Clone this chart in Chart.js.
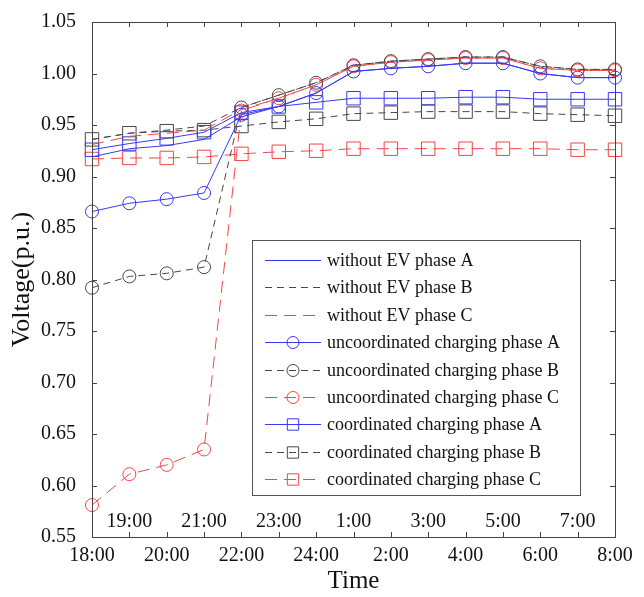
<!DOCTYPE html>
<html>
<head>
<meta charset="utf-8">
<script src="https://cdn.jsdelivr.net/npm/chart.js@4.4.1/dist/chart.umd.min.js"></script>
<style>
  html, body { margin: 0; padding: 0; background: #fff; }
  #wrap { width: 644px; height: 597px; }
</style>
</head>
<body>
<div id="wrap"><canvas id="myChart" width="644" height="597"></canvas></div>
<script>
var hours = ["18:00", "19:00", "20:00", "21:00", "22:00", "23:00", "24:00", "1:00", "2:00", "3:00", "4:00", "5:00", "6:00", "7:00", "8:00"];
var yTicks = [0.55, 0.60, 0.65, 0.70, 0.75, 0.80, 0.85, 0.90, 0.95, 1.00, 1.05];

// without EV
var noEvA = [0.919, 0.927, 0.930, 0.936, 0.958, 0.968, 0.981, 1.002, 1.005, 1.007, 1.010, 1.010, 1.000, 0.996, 0.996];
var noEvB = [0.936, 0.942, 0.945, 0.949, 0.967, 0.979, 0.991, 1.008, 1.012, 1.014, 1.016, 1.016, 1.007, 1.004, 1.004];
var noEvC = [0.931, 0.939, 0.942, 0.945, 0.965, 0.976, 0.989, 1.007, 1.011, 1.013, 1.015, 1.015, 1.005, 1.003, 1.003];
// uncoordinated charging
var uncA = [0.866, 0.874, 0.878, 0.884, 0.960, 0.968, 0.981, 1.002, 1.005, 1.007, 1.010, 1.010, 1.000, 0.996, 0.996];
var uncB = [0.792, 0.803, 0.806, 0.812, 0.967, 0.979, 0.991, 1.008, 1.012, 1.014, 1.016, 1.016, 1.007, 1.004, 1.004];
var uncC = [0.581, 0.611, 0.620, 0.635, 0.964, 0.976, 0.989, 1.007, 1.011, 1.013, 1.015, 1.015, 1.005, 1.003, 1.003];
// coordinated charging
var coA = [0.926, 0.932, 0.937, 0.943, 0.962, 0.968, 0.972, 0.976, 0.976, 0.976, 0.977, 0.977, 0.975, 0.975, 0.975];
var coB = [0.936, 0.942, 0.944, 0.945, 0.949, 0.953, 0.956, 0.961, 0.962, 0.963, 0.963, 0.963, 0.961, 0.960, 0.959];
var coC = [0.917, 0.918, 0.918, 0.919, 0.922, 0.924, 0.925, 0.927, 0.927, 0.927, 0.927, 0.927, 0.927, 0.926, 0.926];

var blue = "#3838f5";
var gray = "#474747";
var red = "#f24646";
var serif = "'Liberation Serif', 'Times New Roman', serif";

function series(label, data, color, dash, marker) {
  return {
    label: label,
    data: data,
    borderColor: color,
    borderWidth: 1,
    borderDash: dash,
    backgroundColor: "rgba(0,0,0,0)",
    pointStyle: marker || false,
    pointRadius: marker === "rect" ? 9.5 : (marker ? 6.5 : 0),
    pointBorderColor: color,
    pointBackgroundColor: "rgba(0,0,0,0)",
    pointBorderWidth: 1,
    tension: 0,
    clip: false
  };
}

var datasets = [
  series("without EV phase A", noEvA, blue, []),
  series("without EV phase B", noEvB, gray, [7, 5]),
  series("without EV phase C", noEvC, red, [12, 7]),
  series("uncoordinated charging phase A", uncA, blue, [], "circle"),
  series("uncoordinated charging phase B", uncB, gray, [7, 5], "circle"),
  series("uncoordinated charging phase C", uncC, red, [12, 7], "circle"),
  series("coordinated charging phase A", coA, blue, [], "rect"),
  series("coordinated charging phase B", coB, gray, [7, 5], "rect"),
  series("coordinated charging phase C", coC, red, [12, 7], "rect")
];

// frame + inward tick marks on all four sides
var framePlugin = {
  id: "frame",
  afterDatasetsDraw: function (chart) {
    var ctx = chart.ctx, a = chart.chartArea;
    var xs = chart.scales.x, ys = chart.scales.y;
    ctx.save();
    ctx.strokeStyle = "#444";
    ctx.lineWidth = 1;
    ctx.strokeRect(a.left + 0.5, a.top + 0.5, a.right - a.left, a.bottom - a.top);
    ctx.beginPath();
    for (var i = 0; i < hours.length; i++) {
      var x = Math.round(xs.getPixelForTick(i)) + 0.5;
      ctx.moveTo(x, a.bottom); ctx.lineTo(x, a.bottom - 5);
      ctx.moveTo(x, a.top); ctx.lineTo(x, a.top + 5);
    }
    ys.ticks.forEach(function (t) {
      var y = Math.round(ys.getPixelForValue(t.value)) + 0.5;
      ctx.moveTo(a.left, y); ctx.lineTo(a.left + 5, y);
      ctx.moveTo(a.right, y); ctx.lineTo(a.right - 5, y);
    });
    ctx.stroke();
    ctx.restore();
  }
};

// boxed legend inside the plot
var legendPlugin = {
  id: "boxLegend",
  afterDraw: function (chart) {
    var ctx = chart.ctx;
    var bx = 252, by = 240, bw = 328, bh = 255, rowH = 27.4;
    ctx.save();
    ctx.fillStyle = "#fff";
    ctx.fillRect(bx, by, bw, bh);
    ctx.strokeStyle = "#555";
    ctx.lineWidth = 1;
    ctx.strokeRect(bx + 0.5, by + 0.5, bw, bh);
    chart.data.datasets.forEach(function (ds, i) {
      var y = Math.round(by + 20 + i * rowH) + 0.5;
      ctx.strokeStyle = ds.borderColor;
      ctx.lineWidth = 1;
      ctx.setLineDash(ds.borderDash);
      ctx.beginPath();
      ctx.moveTo(265, y); ctx.lineTo(321, y);
      ctx.stroke();
      ctx.setLineDash([]);
      if (ds.pointStyle) {
        ctx.fillStyle = "rgba(0,0,0,0)";
        ctx.strokeStyle = ds.borderColor;
        Chart.helpers.drawPoint(ctx, {
          pointStyle: ds.pointStyle,
          radius: ds.pointStyle === "rect" ? 8 : 6,
          rotation: 0,
          borderWidth: 1
        }, 293, y);
      }
      ctx.fillStyle = "#111";
      ctx.font = "18px " + serif;
      ctx.textBaseline = "middle";
      ctx.fillText(ds.label, 327, y + 1);
    });
    ctx.restore();
  }
};

new Chart("myChart", {
  type: "line",
  data: {
    labels: hours,
    datasets: datasets
  },
  options: {
    responsive: false,
    animation: false,
    layout: { padding: { left: 0, top: 22, right: 29, bottom: 0 } },
    plugins: {
      legend: { display: false },
      tooltip: { enabled: false }
    },
    scales: {
      x: {
        type: "category",
        offset: false,
        grid: { display: false, drawTicks: false },
        border: { display: false },
        ticks: {
          autoSkip: false,
          maxRotation: 0,
          padding: 7,
          color: "#111",
          font: { family: serif, size: 20 },
          callback: function (v, i) { return i % 2 === 0 ? hours[i] : ""; }
        },
        title: {
          display: true,
          text: "Time",
          color: "#111",
          font: { family: serif, size: 25 },
          padding: { top: 0, bottom: 1 }
        },
        afterFit: function (s) { s.height = 60; s.paddingLeft = 0; s.paddingRight = 0; }
      },
      x2: {
        type: "category",
        labels: hours,
        offset: false,
        position: { y: 0.576 },
        grid: { display: false, drawTicks: false },
        border: { display: false },
        ticks: {
          autoSkip: false,
          maxRotation: 0,
          padding: 0,
          color: "#111",
          font: { family: serif, size: 20 },
          callback: function (v, i) { return i % 2 === 1 ? hours[i] : ""; }
        },
        afterFit: function (s) { s.paddingLeft = 0; s.paddingRight = 0; }
      },
      y: {
        min: 0.55,
        max: 1.05,
        afterBuildTicks: function (s) {
          s.ticks = yTicks.map(function (v) { return { value: v }; });
        },
        grid: { display: false, drawTicks: false },
        border: { display: false },
        ticks: {
          padding: 16,
          color: "#111",
          font: { family: serif, size: 20 },
          callback: function (v) { return Number(v).toFixed(2); }
        },
        title: {
          display: true,
          text: "Voltage(p.u.)",
          color: "#111",
          font: { family: serif, size: 26 },
          padding: { top: 7, bottom: 0 }
        },
        afterFit: function (s) { s.width = 92; s.paddingTop = 0; s.paddingBottom = 0; }
      }
    }
  },
  plugins: [framePlugin, legendPlugin]
});
</script>
</body>
</html>
